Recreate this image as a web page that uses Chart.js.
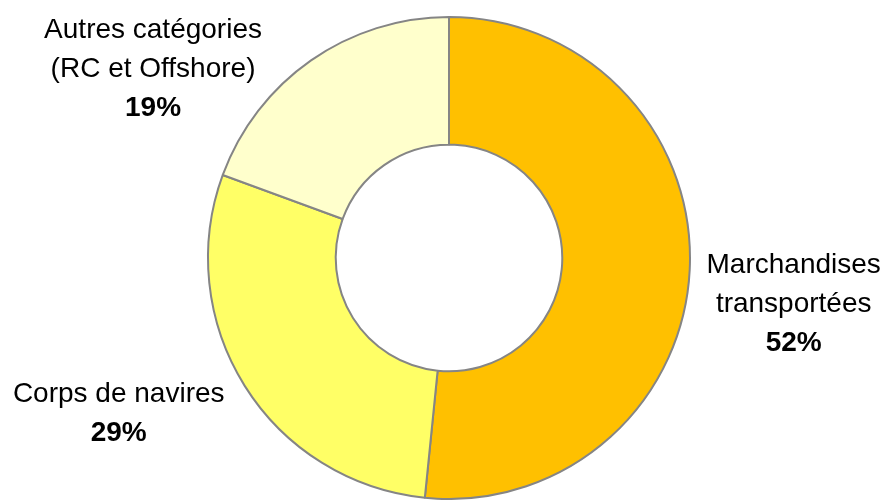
<!DOCTYPE html>
<html>
<head>
<meta charset="utf-8">
<script src="https://cdn.jsdelivr.net/npm/chart.js@4"></script>
<style>
html,body{margin:0;padding:0;background:#fff;}
#wrap{width:889px;height:500px;position:relative;}
</style>
</head>
<body>
<div id="wrap"><canvas id="c"></canvas></div>
<script>
const categories = [
  ["Marchandises", "transportées"],
  ["Corps de navires"],
  ["Autres catégories", "(RC et Offshore)"]
];
const values = [51.6, 29.0, 19.4];
const percentLabels = ["52%", "29%", "19%"];

const colors = ["#FFC000", "#FFFF66", "#FFFFCC"];
// label block offsets relative to each arc's outer mid-point (style only)
const labelOffsets = [[104, 3], [-126, 16], [-158, -22]];
const LINE_H = 39;
const FONT = '"Liberation Sans", Arial, sans-serif';

const labelPlugin = {
  id: 'outerLabels',
  afterDatasetsDraw(chart) {
    const ctx = chart.ctx;
    const meta = chart.getDatasetMeta(0);
    meta.data.forEach((arc, i) => {
      const p = arc.getProps(['x','y','startAngle','endAngle','outerRadius'], true);
      const mid = (p.startAngle + p.endAngle) / 2;
      const ax = p.x + Math.cos(mid) * p.outerRadius + labelOffsets[i][0];
      const ay = p.y + Math.sin(mid) * p.outerRadius + labelOffsets[i][1];
      ctx.save();
      ctx.fillStyle = '#000';
      ctx.textAlign = 'center';
      ctx.textBaseline = 'alphabetic';
      const lines = categories[i];
      lines.forEach((t, k) => {
        ctx.font = '28px ' + FONT;
        ctx.fillText(t, ax, ay + k * LINE_H);
      });
      ctx.font = 'bold 28px ' + FONT;
      ctx.fillText(percentLabels[i], ax, ay + lines.length * LINE_H);
      ctx.restore();
    });
  }
};

new Chart(document.getElementById('c'), {
  type: 'doughnut',
  data: {
    labels: categories.map(c => c.join(' ')),
    datasets: [{
      data: values,
      backgroundColor: colors,
      borderColor: '#858585',
      borderWidth: 2,
      hoverOffset: 0
    }]
  },
  options: {
    responsive: true,
    maintainAspectRatio: false,
    animation: false,
    cutout: '47%',
    layout: { padding: { top: 16, bottom: -4, left: 9, right: 0 } },
    plugins: { legend: { display: false }, tooltip: { enabled: false } }
  },
  plugins: [labelPlugin]
});
</script>
</body>
</html>
